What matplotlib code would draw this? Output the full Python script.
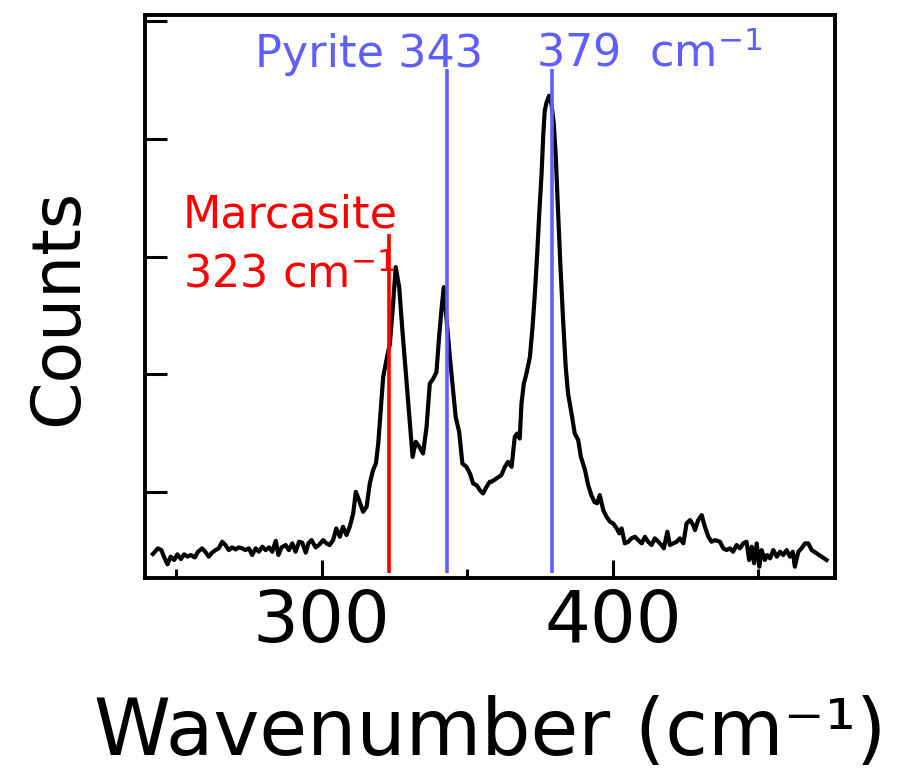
import matplotlib
matplotlib.use('Agg')
import matplotlib.pyplot as plt
from matplotlib.ticker import MultipleLocator, NullFormatter

# Raman spectrum (wavenumber in cm-1, counts in arbitrary units)
wavenumber = [
    242.0, 243.7, 244.9, 245.8, 247.0, 248.1, 249.3, 250.4, 251.6, 252.7,
    253.9, 255.0, 256.4, 257.5, 258.9, 260.0, 261.2, 262.3, 263.5, 264.6,
    265.8, 266.9, 268.1, 269.2, 270.4, 271.5, 272.7, 273.8, 275.0, 276.1,
    277.3, 278.4, 279.6, 280.7, 281.9, 283.0, 284.2, 285.1, 286.2, 287.6,
    288.7, 289.9, 291.0, 292.2, 293.3, 294.5, 295.4, 296.5, 297.9, 299.0,
    300.5, 301.6, 302.7, 303.9, 305.0, 306.2, 307.3, 308.5, 309.6, 310.8,
    311.7, 312.8, 314.2, 315.4, 316.5, 317.6, 318.6, 319.4, 320.5, 321.1,
    322.2, 323.4, 324.5, 325.4, 326.6, 327.7, 328.9, 330.0, 331.2, 332.3,
    333.5, 334.8, 336.0, 337.1, 338.3, 339.4, 340.3, 341.1, 341.9, 342.8,
    344.0, 345.1, 346.0, 347.2, 348.3, 349.7, 350.9, 352.0, 353.2, 354.3,
    355.4, 356.6, 357.7, 358.3, 360.0, 361.7, 362.9, 364.0, 365.2, 366.3,
    367.1, 368.0, 368.6, 369.4, 370.3, 371.5, 372.4, 373.2, 374.0, 374.7,
    375.5, 376.1, 376.6, 377.2, 378.1, 378.9, 379.7, 380.4, 381.2, 382.0,
    382.9, 383.8, 384.6, 385.8, 386.9, 388.1, 389.0, 390.4, 391.5, 392.6,
    393.7, 394.6, 395.5, 396.7, 397.8, 399.0, 400.1, 401.3, 402.2, 403.0,
    404.1, 405.3, 406.4, 407.6, 408.7, 409.9, 411.0, 412.1, 413.3, 414.4,
    415.6, 416.7, 417.5, 418.7, 419.6, 420.7, 421.9, 423.0, 424.2, 425.3,
    426.5, 427.6, 428.2, 429.3, 430.5, 431.6, 432.8, 433.9, 435.1, 436.8,
    437.9, 439.1, 440.2, 441.3, 442.5, 443.6, 444.8, 445.9, 446.8, 447.7,
    448.5, 449.4, 450.3, 451.1, 452.2, 453.0, 454.0, 455.1, 456.3, 457.4,
    458.5, 459.7, 460.8, 461.8, 462.5, 463.7, 464.8, 466.0, 467.1, 468.3,
    470.0, 471.7, 473.4,
]
counts = [
    475, 523, 508, 452, 387, 452, 424, 472, 432, 472,
    452, 466, 446, 494, 523, 494, 452, 486, 508, 523,
    579, 551, 508, 531, 514, 531, 523, 508, 523, 466,
    523, 494, 537, 508, 531, 494, 587, 466, 531, 551,
    508, 565, 494, 579, 571, 486, 565, 593, 531, 551,
    593, 565, 551, 593, 692, 621, 706, 636, 706, 819,
    1003, 932, 833, 876, 1073, 1186, 1243, 1412, 1780, 1977,
    2119, 2260, 2599, 2910, 2740, 2373, 2006, 1667, 1299, 1427,
    1384, 1328, 1554, 1921, 1963, 2020, 2316, 2542, 2740, 2486,
    2147, 1864, 1638, 1511, 1243, 1215, 1158, 1073, 1059, 1017,
    989, 1045, 1088, 1088, 1116, 1144, 1215, 1257, 1215, 1469,
    1497, 1455, 1752, 1921, 2006, 2147, 2401, 2684, 3023, 3362,
    3701, 4040, 4237, 4308, 4365, 4294, 4125, 3842, 3362, 2909,
    2458, 2062, 1836, 1667, 1497, 1441, 1300, 1190, 1060, 975,
    915, 905, 975, 847, 791, 749, 734, 692, 650, 692,
    565, 579, 608, 621, 593, 565, 621, 579, 551, 608,
    579, 551, 523, 664, 551, 565, 579, 608, 565, 734,
    763, 720, 678, 763, 805, 706, 621, 579, 593, 579,
    523, 508, 523, 494, 551, 523, 565, 579, 424, 537,
    396, 565, 367, 508, 424, 466, 438, 508, 452, 494,
    466, 508, 452, 494, 367, 494, 523, 565, 565, 508,
    480, 452, 424,
]

marcasite_peak = [323]
pyrite_peaks = [343, 379]
blue = '#5f5fff'

fig = plt.figure(figsize=(8.97, 7.71), dpi=100)
ax = fig.add_axes([0.1617, 0.2503, 0.7692, 0.7302])

ax.plot(wavenumber, counts, color='black', lw=3.0, zorder=3)
ax.vlines(marcasite_peak, 315, 3195, color='red', lw=2.6, zorder=4)
ax.vlines(pyrite_peaks, 315, 4593, color=blue, lw=2.6, zorder=4)

ax.text(252.2, 3246, 'Marcasite', color='red', fontsize=32, ha='left', va='baseline')
ax.text(252.2, 2737, '323 cm$^{-1}$', color='red', fontsize=32, ha='left', va='baseline')
ax.text(277.0, 4610, 'Pyrite 343', color=blue, fontsize=32, ha='left', va='baseline')
ax.text(373.5, 4610, '379  cm$^{-1}$', color=blue, fontsize=32, ha='left', va='baseline')

ax.set_xlim(239.3, 476.3)
ax.set_ylim(271, 5050)
ax.xaxis.set_major_locator(MultipleLocator(100))
ax.xaxis.set_minor_locator(MultipleLocator(50))
ax.yaxis.set_major_locator(MultipleLocator(1000))
ax.yaxis.set_major_formatter(NullFormatter())

ax.tick_params(axis='x', which='major', direction='in', length=13, width=2.2,
               labelsize=52, pad=7)
ax.tick_params(axis='x', which='minor', direction='in', length=6.5, width=2.2)
ax.tick_params(axis='y', which='major', direction='in', length=16, width=2.2,
               labelleft=False)
for s in ax.spines.values():
    s.set_linewidth(2.8)

ax.set_xlabel('Wavenumber (cm⁻¹)', fontsize=56)
ax.xaxis.set_label_coords(0.5, -0.314)
ax.xaxis.label.set_va('baseline')
ax.set_ylabel('Counts', fontsize=49)
ax.yaxis.set_label_coords(-0.098, 0.481)
ax.yaxis.label.set_va('baseline')

fig.savefig('out.png', dpi=100)
